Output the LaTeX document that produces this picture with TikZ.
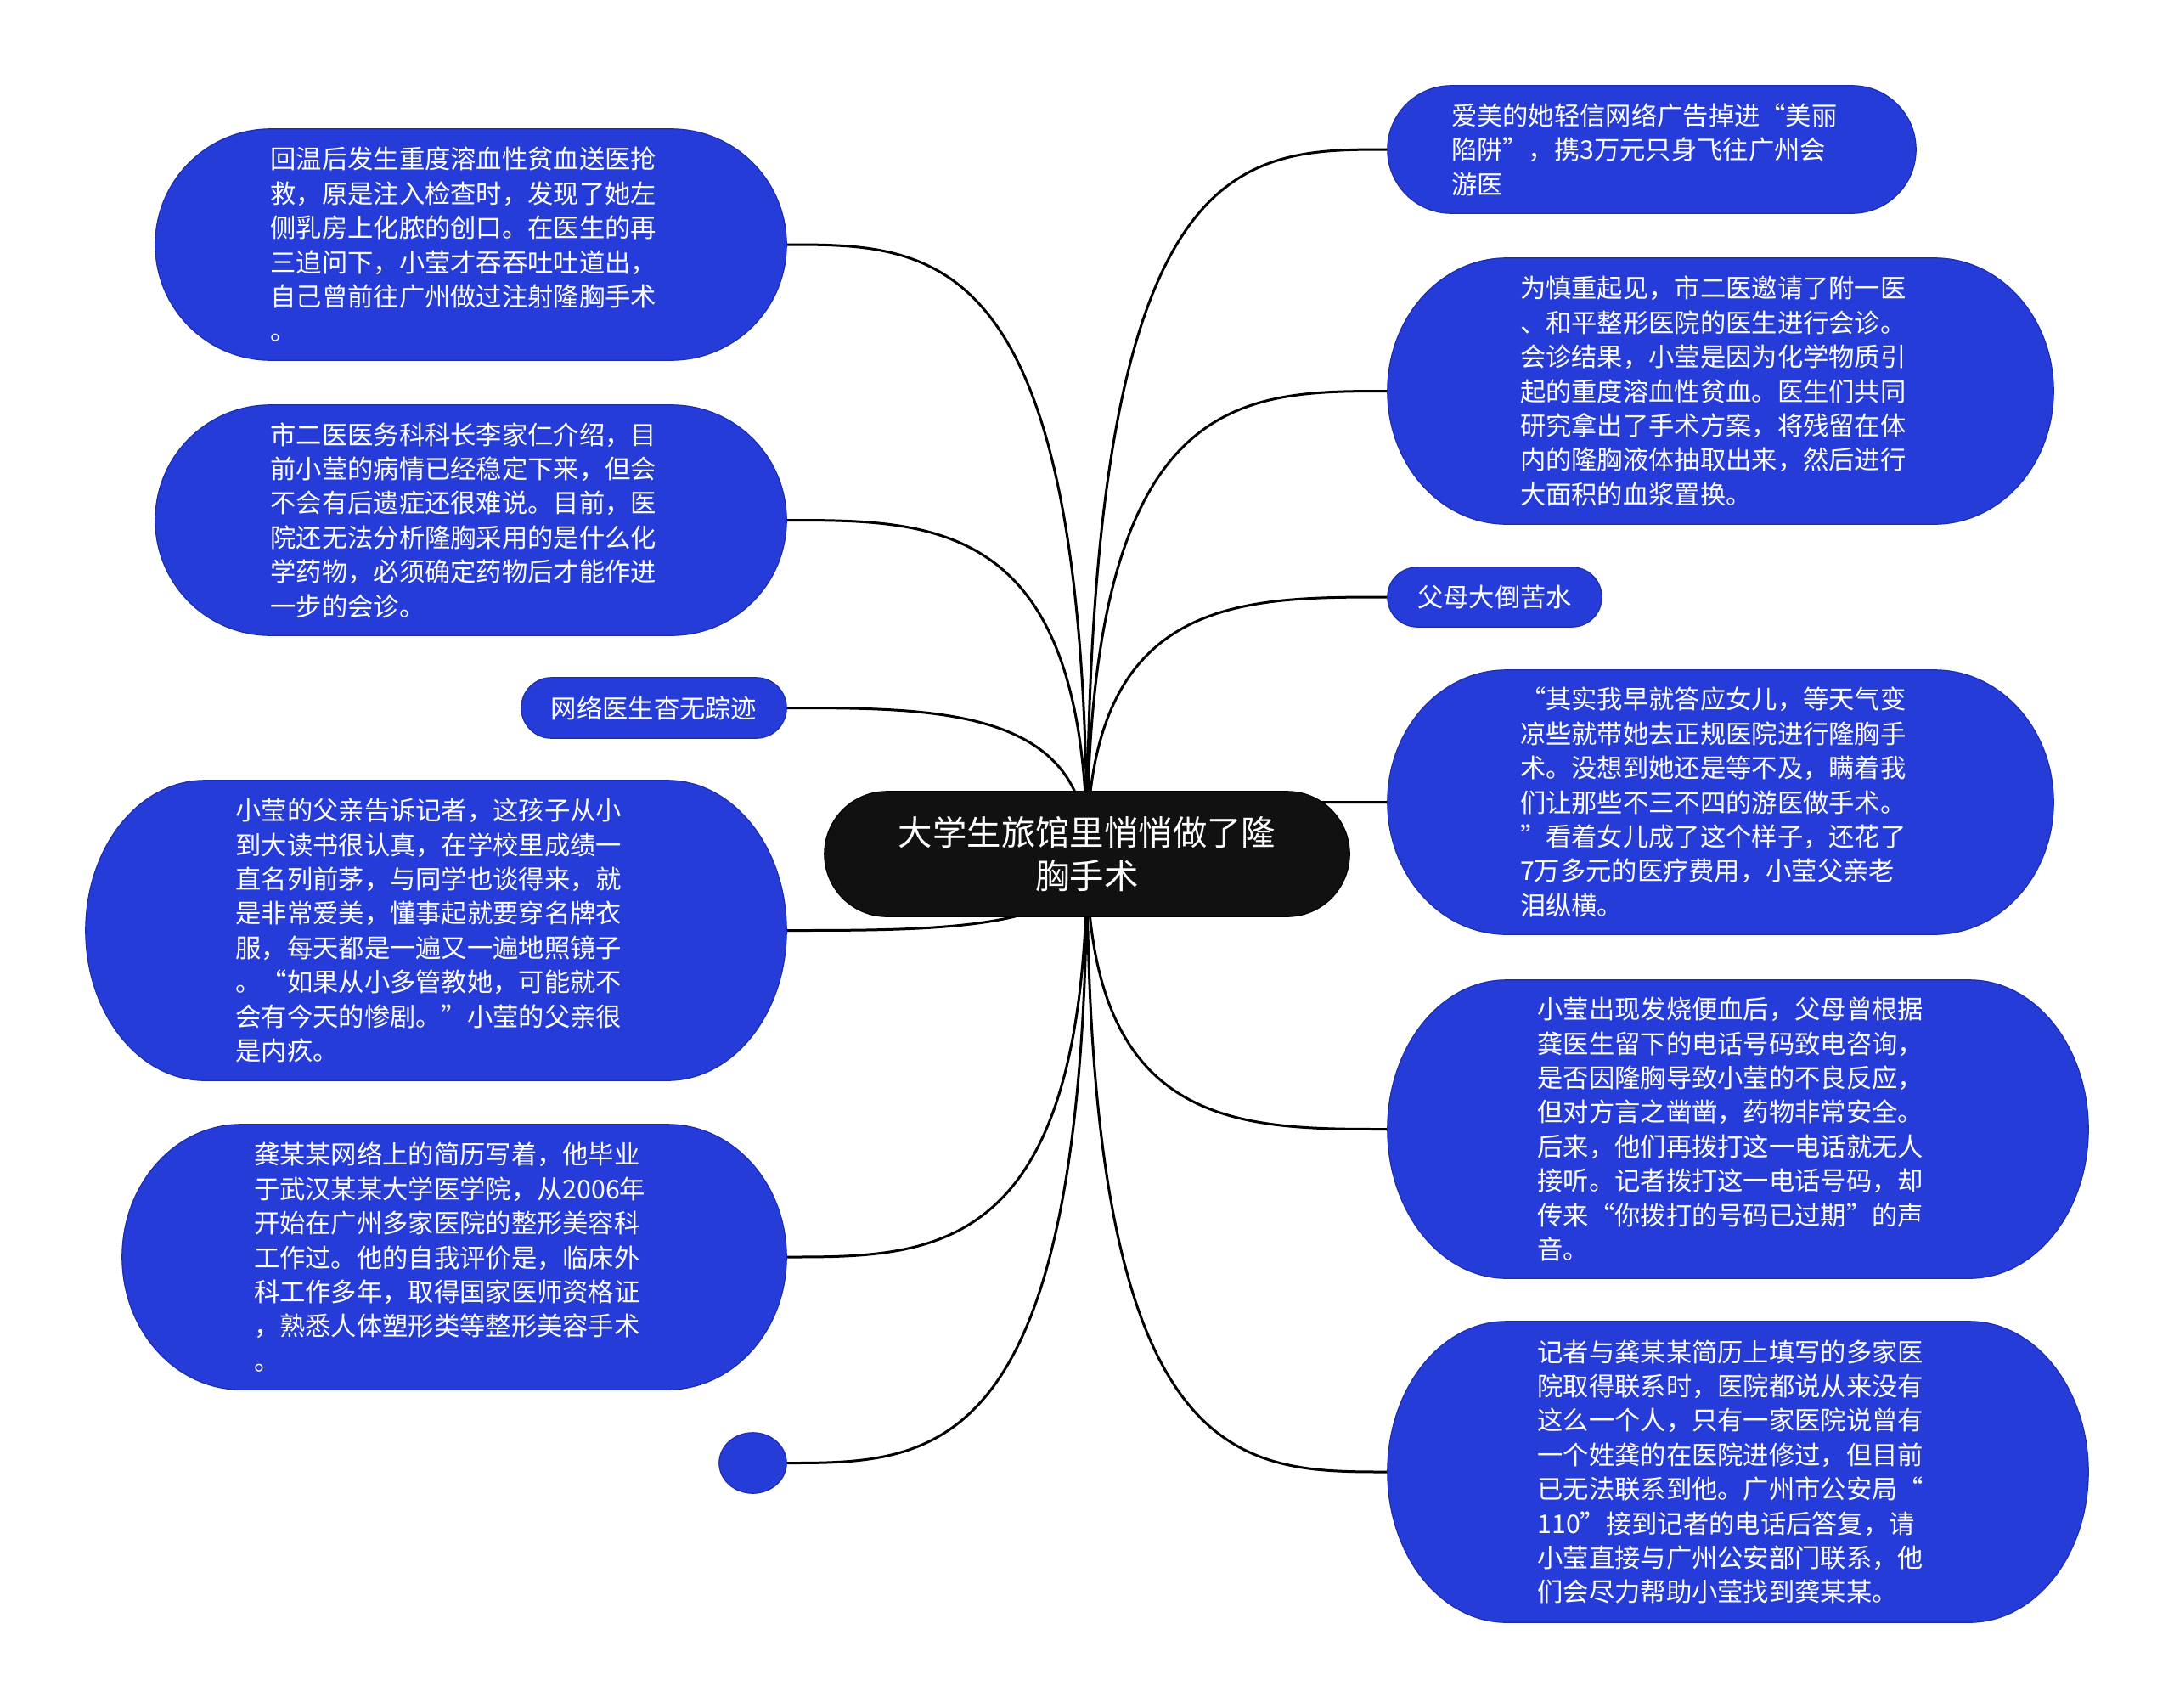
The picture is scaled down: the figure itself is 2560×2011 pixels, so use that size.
\documentclass[tikz,border=0pt]{standalone}
\usepackage{fontspec}
\newfontfamily\cjk{Noto Sans CJK SC}
\usetikzlibrary{calc,backgrounds}
\definecolor{nodeblue}{RGB}{38,60,216}
\definecolor{nodeedge}{RGB}{28,44,170}
\definecolor{ctrfill}{RGB}{17,17,17}
\newcommand\blobpath[3]{%
  \path[#3] let \p1=(#1.north west), \p2=(#1.south east), \n1={(\y1-\y2)/2} in
    (\x1+#2pt,\y1) -- (\x2-#2pt,\y1)
    arc[start angle=90,end angle=-90,x radius=#2pt,y radius={\n1*1pt}]
    -- (\x1+#2pt,\y2)
    arc[start angle=270,end angle=90,x radius=#2pt,y radius={\n1*1pt}] -- cycle;}
\begin{document}
\begin{tikzpicture}[x=1pt,y=-1pt,
  txt/.style={inner sep=0pt, text=white, font=\cjk\fontsize{30.3}{40.4}\selectfont},
  para/.style={txt, text width=472pt, align=left},
  conn/.style={line width=3pt, black},
  blobfill/.style={fill=nodeblue, draw=nodeedge, line width=1.2pt},
  ctrstyle/.style={fill=ctrfill, draw=black, line width=1.2pt}]
\useasboundingbox (0,0) rectangle (2560,2011);

% central topic
\node[inner sep=0pt, text=white, align=center, font=\cjk\fontsize{40.4}{50.6}\selectfont,
  minimum width=618pt, minimum height=147pt] (ctr) at (1280,1005.5)
  {大学生旅馆里悄悄做了隆\\胸手术};

% left branches
\node[para, minimum width=743pt, minimum height=272pt] (l1) at (554.5,288)
  {回温后发生重度溶血性贫血送医抢\\救，原是注入检查时，发现了她左\\侧乳房上化脓的创口。在医生的再\\三追问下，小莹才吞吞吐吐道出，\\自己曾前往广州做过注射隆胸手术\\。};
\node[para, minimum width=743pt, minimum height=271pt] (l2) at (554.5,612.5)
  {市二医医务科科长李家仁介绍，目\\前小莹的病情已经稳定下来，但会\\不会有后遗症还很难说。目前，医\\院还无法分析隆胸采用的是什么化\\学药物，必须确定药物后才能作进\\一步的会诊。};
\node[txt, minimum width=312pt, minimum height=71pt] (l3) at (770,833.5)
  {网络医生杳无踪迹};
\node[para, minimum width=825pt, minimum height=353pt] (l4) at (513.5,1095.5)
  {小莹的父亲告诉记者，这孩子从小\\到大读书很认真，在学校里成绩一\\直名列前茅，与同学也谈得来，就\\是非常爱美，懂事起就要穿名牌衣\\服，每天都是一遍又一遍地照镜子\\。“如果从小多管教她，可能就不\\会有今天的惨剧。”小莹的父亲很\\是内疚。};
\node[para, minimum width=782pt, minimum height=312pt] (l5) at (535,1480)
  {龚某某网络上的简历写着，他毕业\\于武汉某某大学医学院，从2006年\\开始在广州多家医院的整形美容科\\工作过。他的自我评价是，临床外\\科工作多年，取得国家医师资格证\\，熟悉人体塑形类等整形美容手术\\。};
\node[txt, minimum width=79pt, minimum height=71pt] (l6) at (886.5,1722.5) {};

% right branches
\node[para, minimum width=622pt, minimum height=150pt] (r1) at (1945,176)
  {爱美的她轻信网络广告掉进“美丽\\陷阱”，携3万元只身飞往广州会\\游医};
\node[para, minimum width=784pt, minimum height=313pt] (r2) at (2026,460.5)
  {为慎重起见，市二医邀请了附一医\\、和平整形医院的医生进行会诊。\\会诊结果，小莹是因为化学物质引\\起的重度溶血性贫血。医生们共同\\研究拿出了手术方案，将残留在体\\内的隆胸液体抽取出来，然后进行\\大面积的血浆置换。};
\node[txt, minimum width=252pt, minimum height=70pt] (r3) at (1760,703)
  {父母大倒苦水};
\node[para, minimum width=784pt, minimum height=311pt] (r4) at (2026,944.5)
  {“其实我早就答应女儿，等天气变\\凉些就带她去正规医院进行隆胸手\\术。没想到她还是等不及，瞒着我\\们让那些不三不四的游医做手术。\\”看着女儿成了这个样子，还花了\\7万多元的医疗费用，小莹父亲老\\泪纵横。};
\node[para, minimum width=825pt, minimum height=351pt] (r5) at (2046.5,1329.5)
  {小莹出现发烧便血后，父母曾根据\\龚医生留下的电话号码致电咨询，\\是否因隆胸导致小莹的不良反应，\\但对方言之凿凿，药物非常安全。\\后来，他们再拨打这一电话就无人\\接听。记者拨打这一电话号码，却\\传来“你拨打的号码已过期”的声\\音。};
\node[para, minimum width=825pt, minimum height=354pt] (r6) at (2046.5,1733)
  {记者与龚某某简历上填写的多家医\\院取得联系时，医院都说从来没有\\这么一个人，只有一家医院说曾有\\一个姓龚的在医院进修过，但目前\\已无法联系到他。广州市公安局“\\110”接到记者的电话后答复，请\\小莹直接与广州公安部门联系，他\\们会尽力帮助小莹找到龚某某。};

\begin{scope}[on background layer]
  \fill[white] (0,0) rectangle (2560,2011);
  \foreach \nm in {l1,l2,l3,l4,l5,l6}
    \draw[conn] (ctr.center) .. controls (ctr.center |- \nm.east)
      and ($(ctr.center |- \nm.east)!0.5!(\nm.east)$) .. (\nm.east);
  \foreach \nm in {r1,r2,r3,r4,r5,r6}
    \draw[conn] (ctr.center) .. controls (ctr.center |- \nm.west)
      and ($(ctr.center |- \nm.west)!0.5!(\nm.west)$) .. (\nm.west);
  \foreach \nm/\rr in {l1/136,l2/135.5,l3/35.5,l4/140,l5/140,l6/39.5,
                       r1/75,r2/140,r3/35,r4/140,r5/140,r6/140}
    {\blobpath{\nm}{\rr}{blobfill}}
  \blobpath{ctr}{73.5}{ctrstyle}
\end{scope}
\end{tikzpicture}
\end{document}
